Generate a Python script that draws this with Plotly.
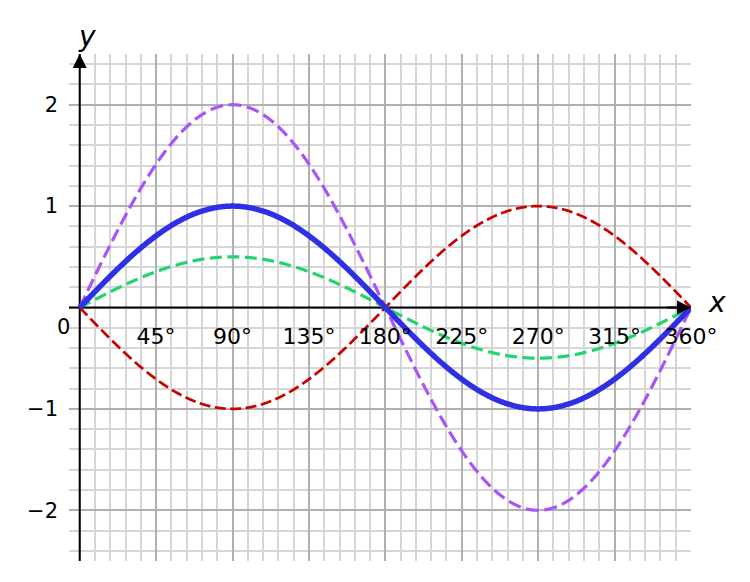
import numpy as np
import plotly.graph_objects as go

# ---- data ----
amplitudes = [2.0, 0.5, -1.0, 1.0]            # y = A·sin(x)
curve_colors = ["#a855f7", "#22d46e", "#c80000", "#2f2fe6"]
curve_widths = [3.2, 3.2, 2.7, 5.5]
curve_dashes = ["13px,5.5px", "12px,5.5px", "11px,4.5px", "solid"]

x_tick_vals = [45, 90, 135, 180, 225, 270, 315, 360]
x_tick_text = ["45°", "90°", "135°", "180°", "225°", "270°", "315°", "360°"]
y_tick_vals = [-2, -1, 0, 1, 2]
y_tick_text = ["−2", "−1", "", "1", "2"]

x_min, x_max = -6.3, 360
y_min, y_max = -2.5, 2.5

x_major = list(range(0, 361, 45))
x_minor = [v for v in range(0, 361, 9) if v % 45 != 0]
y_minor = [round(v * 0.2, 1) for v in range(-12, 13) if v % 5 != 0]

deg = np.linspace(0, 360, 721)

fig = go.Figure()

# axis lines (below the curves)
fig.add_trace(go.Scatter(x=[x_min, x_max], y=[0, 0], mode="lines",
                         line=dict(color="black", width=2), hoverinfo="skip",
                         showlegend=False, cliponaxis=False))
fig.add_trace(go.Scatter(x=[0, 0], y=[y_min, y_max], mode="lines",
                         line=dict(color="black", width=2), hoverinfo="skip",
                         showlegend=False, cliponaxis=False))

for a, c, w, d in zip(amplitudes, curve_colors, curve_widths, curve_dashes):
    fig.add_trace(go.Scatter(x=deg, y=a * np.sin(np.radians(deg)), mode="lines",
                             line=dict(color=c, width=w, dash=d, simplify=False),
                             showlegend=False, cliponaxis=False))

font = dict(family="DejaVu Sans", size=21, color="black")

# x tick labels inside the plot, below the x axis
fig.add_trace(go.Scatter(x=x_tick_vals, y=[-0.31] * len(x_tick_vals), mode="text",
                         text=x_tick_text, textfont=dict(family="DejaVu Sans", size=22, color="black"),
                         textposition="middle center", showlegend=False,
                         cliponaxis=False, hoverinfo="skip"))

fig.update_layout(
    width=742, height=574,
    margin=dict(l=61, r=59, t=46, b=21),
    paper_bgcolor="white", plot_bgcolor="white",
    xaxis=dict(range=[x_min, x_max], showticklabels=False, ticks="",
               tickmode="array", tickvals=x_major,
               showgrid=True, gridcolor="#b0b0b0", gridwidth=2,
               zeroline=False, showline=False,
               minor=dict(tickmode="array", tickvals=x_minor, showgrid=True,
                          gridcolor="#d6d6d6", gridwidth=1.5, ticks="")),
    yaxis=dict(range=[y_min, y_max], tickmode="array", tickvals=y_tick_vals,
               ticktext=y_tick_text, tickfont=font, ticks="",
               ticklabelstandoff=10,
               showgrid=True, gridcolor="#b0b0b0", gridwidth=2,
               zeroline=False, showline=False,
               minor=dict(tickmode="array", tickvals=y_minor, showgrid=True,
                          gridcolor="#d6d6d6", gridwidth=1.5, ticks="")),
    annotations=[
        dict(x=x_max, y=0, ax=x_max - 15, ay=0, xref="x", yref="y",
             axref="x", ayref="y", text="", showarrow=True, arrowhead=2,
             arrowsize=1.4, arrowwidth=2, arrowcolor="black"),
        dict(x=0, y=y_max, ax=0, ay=y_max - 0.15, xref="x", yref="y",
             axref="x", ayref="y", text="", showarrow=True, arrowhead=2,
             arrowsize=1.4, arrowwidth=2, arrowcolor="black"),
        dict(x=1.042, y=0.509, xref="paper", yref="paper", text="<i>x</i>",
             xanchor="center", yanchor="middle", showarrow=False,
             font=dict(family="DejaVu Sans", size=28, color="black")),
        dict(x=0.029, y=1.034, xref="paper", yref="paper", text="<i>y</i>",
             xanchor="center", yanchor="middle", showarrow=False,
             font=dict(family="DejaVu Sans", size=28, color="black")),
        dict(x=-0.0096, y=0.4615, xref="paper", yref="paper", text="0",
             xanchor="center", yanchor="middle", showarrow=False, font=font),
    ],
)

fig.write_html("out.html")
